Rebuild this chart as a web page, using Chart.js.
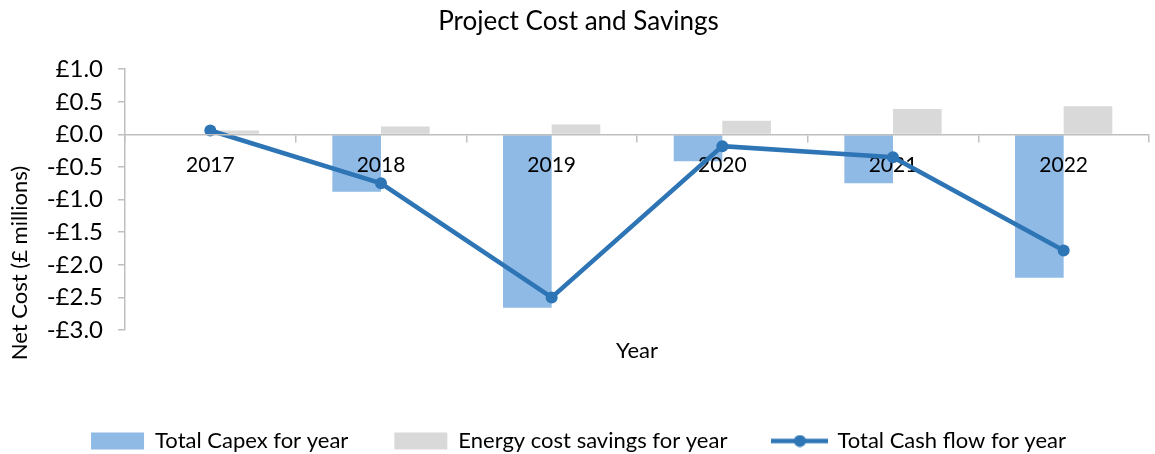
<!DOCTYPE html>
<html>
<head>
<meta charset="utf-8">
<title>Project Cost and Savings</title>
<script src="https://cdn.jsdelivr.net/npm/chart.js@4"></script>
<style>
    html, body { margin: 0; padding: 0; background: #fff; }
    #wrap { width: 1155px; height: 454px; }
</style>
</head>
<body>
<div id="wrap"><canvas id="costChart"></canvas></div>
<script>
// Chart data (£ millions)
var years = ['2017', '2018', '2019', '2020', '2021', '2022'];
var capex = [0, -0.88, -2.66, -0.41, -0.75, -2.2];
var savings = [0.06, 0.12, 0.15, 0.21, 0.39, 0.43];
var cashFlow = [0.06, -0.75, -2.5, -0.18, -0.35, -1.78];

var FONT = 'Lato, "Liberation Sans", sans-serif';
var AXIS_GREY = '#bfbfbf';
var LINE_BLUE = '#2e75b6';
var PAD_BOTTOM = -8;

// legend icon for the line series: a short line with a dot in the middle
var lineIcon = document.createElement('canvas');
lineIcon.width = 57;
lineIcon.height = 13;
(function() {
    var c = lineIcon.getContext('2d');
    c.strokeStyle = LINE_BLUE;
    c.lineWidth = 4.5;
    c.beginPath();
    c.moveTo(0, 6.5);
    c.lineTo(57, 6.5);
    c.stroke();
    c.fillStyle = LINE_BLUE;
    c.beginPath();
    c.arc(28.5, 6.5, 6, 0, Math.PI * 2);
    c.fill();
})();

// y axis title, placed where the original has it (a bit below the plot centre)
var yTitlePlugin = {
    id: 'yTitle',
    afterDraw: function(chart) {
        var c = chart.ctx;
        c.save();
        c.translate(20, 263);
        c.rotate(-Math.PI / 2);
        c.fillStyle = '#000';
        c.font = '22px ' + FONT;
        c.textAlign = 'center';
        c.textBaseline = 'middle';
        c.fillText('Net Cost (£ millions)', 0, 0);
        c.restore();
    }
};

// year labels under the zero line: above the bars but below the cash flow line
var yearLabelPlugin = {
    id: 'yearLabels',
    afterDatasetDraw: function(chart, args) {
        if (args.index !== 0) return;
        var c = chart.ctx;
        var xs = chart.scales.x2;
        var y0 = chart.scales.y.getPixelForValue(0);
        c.save();
        c.fillStyle = '#000';
        c.font = '21px ' + FONT;
        c.textAlign = 'center';
        c.textBaseline = 'middle';
        years.forEach(function(yr, i) {
            c.fillText(yr, xs.getPixelForValue(i), y0 + 31);
        });
        c.restore();
    }
};

var ctx = document.getElementById('costChart').getContext('2d');
var costChart = new Chart(ctx, {
    type: 'bar',
    data: {
        labels: years,
        datasets: [{
            label: 'Total Capex for year',
            data: capex,
            backgroundColor: '#8fbae6',
            borderWidth: 0,
            categoryPercentage: 0.57,
            barPercentage: 1.0,
            order: 1
        }, {
            label: 'Energy cost savings for year',
            data: savings,
            backgroundColor: '#d9d9d9',
            borderWidth: 0,
            categoryPercentage: 0.57,
            barPercentage: 1.0,
            order: 1
        }, {
            type: 'line',
            label: 'Total Cash flow for year',
            data: cashFlow,
            borderColor: LINE_BLUE,
            backgroundColor: LINE_BLUE,
            borderWidth: 4.5,
            pointRadius: 6,
            pointHoverRadius: 6,
            pointBackgroundColor: LINE_BLUE,
            pointBorderWidth: 0,
            tension: 0,
            order: 0
        }]
    },
    plugins: [yTitlePlugin, yearLabelPlugin],
    options: {
        responsive: true,
        maintainAspectRatio: false,
        animation: false,
        layout: { padding: { left: 0, right: -2, top: 0, bottom: PAD_BOTTOM } },
        plugins: {
            title: {
                display: true,
                text: 'Project Cost and Savings',
                color: '#000',
                font: { family: FONT, size: 26, weight: 'normal' },
                padding: { top: 6, bottom: 32 }
            },
            legend: {
                position: 'bottom',
                labels: {
                    color: '#000',
                    font: { family: FONT, size: 22 },
                    usePointStyle: true,
                    pointStyleWidth: 53,
                    boxHeight: 17,
                    padding: 46,
                    sort: function(a, b) { return a.datasetIndex - b.datasetIndex; },
                    generateLabels: function(chart) {
                        var items = Chart.defaults.plugins.legend.labels.generateLabels(chart);
                        items.forEach(function(item) {
                            item.pointStyle = item.datasetIndex === 2 ? lineIcon : 'rect';
                            item.lineWidth = 0;
                        });
                        return items;
                    }
                }
            },
            tooltip: { enabled: false }
        },
        scales: {
            x: {
                grid: { display: false },
                border: { display: false },
                ticks: { display: false },
                title: {
                    display: true,
                    text: 'Year',
                    color: '#000',
                    font: { family: FONT, size: 22 },
                    padding: { top: 0, bottom: 20 }
                },
                afterFit: function(scale) {
                    scale.height = 454 - PAD_BOTTOM - 330 - scale.chart.legend.height;
                }
            },
            // zero line with category tick marks
            x2: {
                type: 'category',
                labels: years,
                position: { y: 0 },
                offset: true,
                grid: {
                    offset: true,
                    drawOnChartArea: false,
                    drawTicks: true,
                    tickLength: 7,
                    color: AXIS_GREY,
                    lineWidth: 1.5
                },
                border: { display: true, color: AXIS_GREY, width: 1.5, z: 1 },
                ticks: { display: false }
            },
            y: {
                min: -3,
                max: 1,
                ticks: {
                    stepSize: 0.5,
                    color: '#000',
                    font: { family: FONT, size: 24 },
                    padding: 15,
                    callback: function(v) {
                        return (v < 0 ? '-£' : '£') + Math.abs(v).toFixed(1);
                    }
                },
                grid: {
                    drawOnChartArea: false,
                    drawTicks: true,
                    tickLength: 7,
                    color: AXIS_GREY,
                    lineWidth: 1.5
                },
                border: { display: true, color: AXIS_GREY, width: 1.5 },
                afterFit: function(scale) {
                    scale.width = 125;
                }
            }
        }
    }
});
</script>
</body>
</html>
